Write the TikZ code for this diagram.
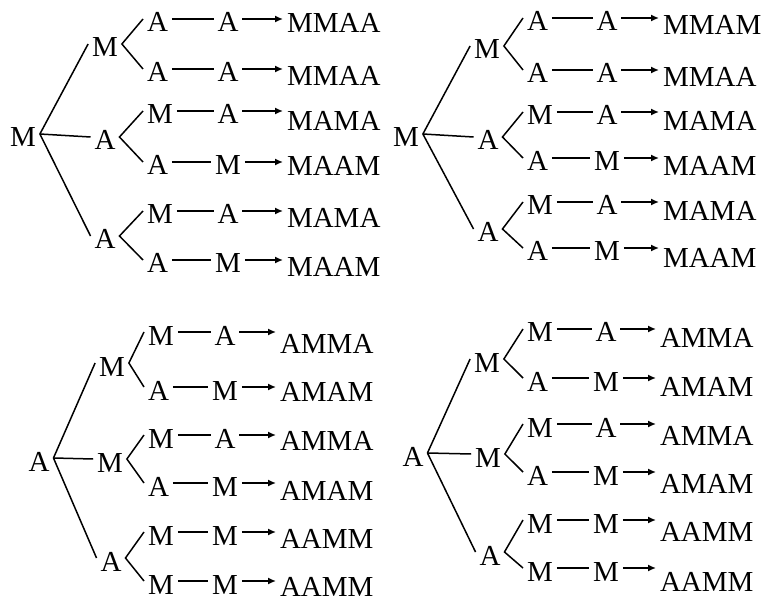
\documentclass[tikz,border=0pt]{standalone}
\usepackage{fontspec}
\setmainfont{Liberation Serif}
\usepackage{tikz}
\usetikzlibrary{
	arrows.meta
}
\tikzset{
	letter/.style={
		inner sep=2pt
		,outer sep=0pt
		,text height=13pt
		,text depth=0pt
		,font=\fontsize{14.5}{17}\selectfont
	}
	,branch/.style={
		letter
		,anchor=west
	}
	,word/.style={
		letter
		,anchor=west
	}
}
\tikzset{
	>={Latex[length=4pt,width=3.5pt]}
	,every picture/.append style={line width=0.75pt, black}
}

\begin{document}
\begin{tikzpicture}[every node/.style={letter}, x=0.5pt, y=-0.5pt]
\useasboundingbox (0,0) rectangle (771,604);
% first tree, starting with M
\node (r1) at (23,134) {M};
\node (r1a) at (105,44) {M};
\node (r1b) at (105,137) {A};
\node (r1c) at (105,236) {A};
\foreach \i/\y/\u/\v/\z/\w in {1/19/A/A/20/MMAA, 2/69/A/A/73/MMAA, 3/111/M/A/118/MAMA,
	4/162/A/M/163/MAAM, 5/211/M/A/215/MAMA, 6/260/A/M/264/MAAM}{
	\node[branch] (p1\i) at (143,\y) {\u};
	\node (q1\i) at (228,\y) {\v};
	\node[word] (w1\i) at (283,\z) {\w};
}
% second tree, starting with M
\node (r2) at (406,134) {M};
\node (r2a) at (487,46) {M};
\node (r2b) at (488,137) {A};
\node (r2c) at (488,229) {A};
\foreach \i/\y/\u/\v/\z/\w in {1/18/A/A/22/MMAM, 2/70/A/A/74/MMAA, 3/112/M/A/118/MAMA,
	4/158/A/M/163/MAAM, 5/202/M/A/208/MAMA, 6/248/A/M/255/MAAM}{
	\node[branch] (p2\i) at (523,\y) {\u};
	\node (q2\i) at (607,\y) {\v};
	\node[word] (w2\i) at (659,\z) {\w};
}
% third tree, starting with A
\node (r3) at (39,458) {A};
\node (r3a) at (112,363) {M};
\node (r3b) at (110,459) {M};
\node (r3c) at (111,558) {A};
\foreach \i/\y/\u/\v/\z/\w in {1/332/M/A/340/AMMA, 2/387/A/M/388/AMAM, 3/435/M/A/437/AMMA,
	4/483/A/M/487/AMAM, 5/532/M/M/535/AAMM, 6/581/M/M/583/AAMM}{
	\node[branch] (p3\i) at (144,\y) {\u};
	\node (q3\i) at (225,\y) {\v};
	\node[word] (w3\i) at (276,\z) {\w};
}
% fourth tree, starting with A
\node (r4) at (413,453) {A};
\node (r4a) at (487,359) {M};
\node (r4b) at (488,454) {M};
\node (r4c) at (490,552) {A};
\foreach \i/\y/\u/\v/\z/\w in {1/329/M/A/335/AMMA, 2/378/A/M/383/AMAM, 3/424/M/A/432/AMMA,
	4/472/A/M/480/AMAM, 5/520/M/M/528/AAMM, 6/568/M/M/578/AAMM}{
	\node[branch] (p4\i) at (523,\y) {\u};
	\node (q4\i) at (606,\y) {\v};
	\node[word] (w4\i) at (656,\z) {\w};
}
% branches and arrows
\foreach \t in {1,...,4}{
	\foreach \j/\k/\l in {a/1/2, b/3/4, c/5/6}{
		\draw (r\t.east) -- (r\t\j.west);
		\draw (p\t\k.west) -- (r\t\j.east) -- (p\t\l.west);
	}
	\foreach \i in {1,...,6}{
		\draw (p\t\i) -- (q\t\i);
		\draw[->] (q\t\i.east) -- (q\t\i.east -| w\t\i.west);
	}
}
\end{tikzpicture}
\end{document}
